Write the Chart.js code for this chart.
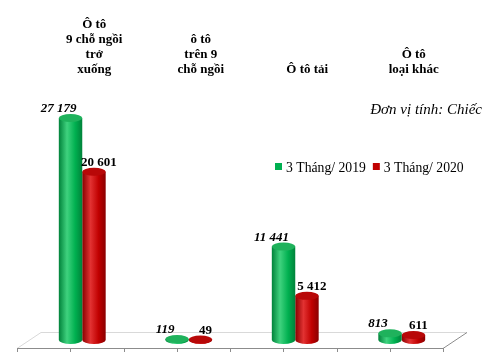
<!DOCTYPE html>
<html lang="vi">
<head>
    <meta charset="UTF-8">
    <title>Ô tô nhập khẩu</title>
    <script src="https://cdn.jsdelivr.net/npm/chart.js@4.4.1/dist/chart.umd.min.js"></script>
    <style>
        body{ margin:0; background:#fff; }
        #board{ width:490px; height:352px; }
    </style>
</head>
<body>
    <div id="board">
        <canvas id="chart1" width="490" height="352"></canvas>
    </div>
<script>
    // du lieu
    const categories = [
        ['Ô tô', '9 chỗ ngồi', 'trở', 'xuống'],
        ['ô tô', 'trên 9', 'chỗ ngồi'],
        ['Ô tô tải'],
        ['Ô tô', 'loại khác']
    ];
    const seriesNames = ['3 Tháng/ 2019', '3 Tháng/ 2020'];
    const values2019 = [27179, 119, 11441, 813];
    const values2020 = [20601, 49, 5412, 611];
    const unitText = 'Đơn vị tính: Chiếc';

    const SERIF = '"Liberation Serif", "Times New Roman", serif';
    const DEPTH_X = 12, DEPTH_Y = 8;   // do sau gia 3D cua san
    const RY = 4;                      // ban kinh doc cua elip

    const colors = [
        { main: '#00b050', dark: '#00823a', light: '#3fd27e', top: '#1fb25c' },
        { main: '#c00000', dark: '#8a0000', light: '#e23232', top: '#b80808' }
    ];

    function fmt(v){
        return String(v).replace(/\B(?=(\d{3})+(?!\d))/g, ' ');
    }

    // ve san 3D
    const floorPlugin = {
        id: 'floor',
        beforeDatasetsDraw(chart){
            const ctx = chart.ctx, a = chart.chartArea;
            const fy = a.bottom + DEPTH_Y, by = a.bottom - DEPTH_Y;
            const fl = a.left - DEPTH_X, fr = a.right - DEPTH_X;
            const bl = a.left + DEPTH_X, br = a.right + DEPTH_X;
            ctx.save();
            ctx.fillStyle = '#ffffff';
            ctx.beginPath();
            ctx.moveTo(fl, fy); ctx.lineTo(bl, by); ctx.lineTo(br, by); ctx.lineTo(fr, fy);
            ctx.closePath(); ctx.fill();
            ctx.lineWidth = 1;
            ctx.strokeStyle = '#d9d9d9';
            ctx.beginPath();
            ctx.moveTo(fl, fy + 0.5); ctx.lineTo(bl, by + 0.5); ctx.lineTo(br, by + 0.5);
            ctx.stroke();
            ctx.strokeStyle = '#8c8c8c';
            ctx.beginPath();
            ctx.moveTo(br, by + 0.5); ctx.lineTo(fr, fy + 0.5); ctx.lineTo(fl, fy + 0.5);
            ctx.stroke();
            // vach chia
            const step = (a.right - a.left) / categories.length / 2;
            ctx.beginPath();
            for (let k = 0; k <= categories.length * 2; k++){
                const x = Math.round(fl + k * step) + 0.5;
                ctx.moveTo(x, fy); ctx.lineTo(x, fy + 4);
            }
            ctx.stroke();
            ctx.restore();
        }
    };

    // ve cot hinh tru thay cho cot mac dinh
    const cylinderPlugin = {
        id: 'cylinder',
        beforeDatasetDraw(chart, args){
            const ctx = chart.ctx;
            const meta = args.meta;
            const c = colors[args.index];
            meta.data.forEach(bar => {
                const p = bar.getProps(['x', 'y', 'base', 'width'], true);
                const rx = p.width / 2;
                const left = p.x - rx, right = p.x + rx;
                const g = ctx.createLinearGradient(left, 0, right, 0);
                g.addColorStop(0, c.dark);
                g.addColorStop(0.35, c.light);
                g.addColorStop(0.7, c.main);
                g.addColorStop(1, c.dark);
                ctx.save();
                ctx.fillStyle = g;
                ctx.beginPath();
                ctx.moveTo(left, p.y);
                ctx.lineTo(left, p.base);
                ctx.ellipse(p.x, p.base, rx, RY, 0, Math.PI, 0, true);
                ctx.lineTo(right, p.y);
                ctx.closePath();
                ctx.fill();
                ctx.fillStyle = c.top;
                ctx.beginPath();
                ctx.ellipse(p.x, p.y, rx, RY, 0, 0, Math.PI * 2);
                ctx.fill();
                ctx.restore();
            });
            return false;
        }
    };

    // nhan so lieu, nhan nhom, chu thich
    const textPlugin = {
        id: 'texts',
        afterDatasetsDraw(chart){
            const ctx = chart.ctx, xs = chart.scales.x;
            ctx.save();
            ctx.fillStyle = '#000';
            ctx.textBaseline = 'alphabetic';
            ctx.textAlign = 'center';

            chart.data.datasets.forEach((ds, i) => {
                const meta = chart.getDatasetMeta(i);
                ctx.font = (i === 0 ? 'italic bold 13px ' : 'bold 13px ') + SERIF;
                meta.data.forEach((bar, j) => {
                    const off = i === 0 ? -12 : 5;
                    ctx.fillText(fmt(ds.data[j]), bar.x + off, bar.y - RY - 2);
                });
            });

            // ten nhom o tren
            ctx.font = 'bold 13px ' + SERIF;
            categories.forEach((lines, j) => {
                const x = xs.getPixelForTick(j) + DEPTH_X;
                lines.forEach((t, k) => {
                    ctx.fillText(t, x, 73 - (lines.length - 1 - k) * 15);
                });
            });

            // don vi
            ctx.textAlign = 'right';
            ctx.font = 'italic 15px ' + SERIF;
            ctx.fillText(unitText, 482, 114);

            // chu thich
            ctx.textAlign = 'left';
            ctx.font = '13.7px ' + SERIF;
            let x = 275;
            chart.data.datasets.forEach((ds, i) => {
                ctx.fillStyle = colors[i].main;
                ctx.fillRect(x, 163, 7, 7);
                ctx.fillStyle = '#000';
                ctx.fillText(ds.label, x + 11, 172);
                x += 11 + ctx.measureText(ds.label).width + 7;
            });
            ctx.restore();
        }
    };

    const ctx = document.getElementById('chart1').getContext('2d');
    new Chart(ctx, {
        type: 'bar',
        data: {
            labels: categories,
            datasets: [
                { label: seriesNames[0], data: values2019, backgroundColor: colors[0].main },
                { label: seriesNames[1], data: values2020, backgroundColor: colors[1].main }
            ]
        },
        options: {
            responsive: false,
            animation: false,
            layout: { padding: { top: 95, bottom: 12, left: 29, right: 35 } },
            datasets: { bar: { categoryPercentage: 0.44, barPercentage: 1 } },
            plugins: { legend: { display: false }, tooltip: { enabled: false } },
            scales: {
                x: { display: false },
                y: { display: false, min: 0, max: 30000 }
            }
        },
        plugins: [floorPlugin, cylinderPlugin, textPlugin]
    });
</script>
</body>
</html>
